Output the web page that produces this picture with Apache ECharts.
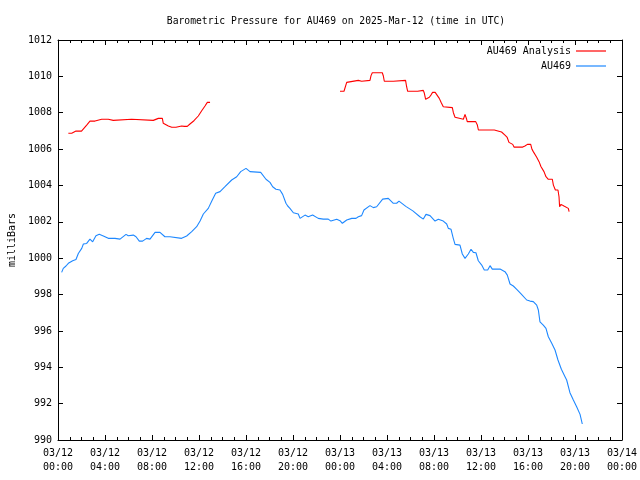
<!DOCTYPE html>
<html>
<head>
<meta charset="utf-8">
<script src="https://cdn.jsdelivr.net/npm/echarts@6/dist/echarts.min.js"></script>
<style>html,body{margin:0;padding:0;background:#fff}#c{width:640px;height:480px}</style>
</head>
<body>
<div id="c"></div>
<script>
// Hours since 2025-03-12 00:00 UTC, pressure in milliBars
const tickLabels = ['03/12\n00:00','03/12\n04:00','03/12\n08:00','03/12\n12:00','03/12\n16:00','03/12\n20:00',
  '03/13\n00:00','03/13\n04:00','03/13\n08:00','03/13\n12:00','03/13\n16:00','03/13\n20:00','03/14\n00:00'];

const analysisPart1 = [
  [0.88,1006.87],[1.17,1006.87],[1.25,1006.92],[1.53,1006.99],[2.00,1006.99],[2.44,1007.32],[2.72,1007.54],
  [3.15,1007.54],[3.23,1007.60],[3.72,1007.64],[4.28,1007.64],[4.37,1007.58],[4.70,1007.58],[4.79,1007.64],
  [6.27,1007.64],[6.32,1007.58],[8.11,1007.58],[8.26,1007.64],[8.54,1007.69],[8.88,1007.69],[8.96,1007.42],
  [9.11,1007.36],[9.39,1007.27],[9.68,1007.20],[10.04,1007.20],[10.15,1007.27],[10.52,1007.27],[10.67,1007.32],
  [10.75,1007.25],[10.86,1007.14],[11.00,1007.25],[11.23,1007.38],[11.57,1007.56],[11.94,1007.82],
  [12.23,1008.11],[12.51,1008.37],[12.71,1008.57],[12.94,1008.57]
];
const analysisPart2 = [
  [24.00,1009.18],[24.34,1009.18],[24.43,1009.25],[24.57,1009.67],[24.65,1009.78],[25.56,1009.78],[25.65,1009.73],
  [25.84,1009.73],[25.93,1009.78],[26.55,1009.78],[26.64,1010.04],[26.75,1010.20],[27.60,1010.20],[27.69,1010.02],
  [27.77,1009.73],[28.54,1009.73],[28.57,1009.78],[29.58,1009.78],[29.67,1009.43],[29.76,1009.18],[30.61,1009.18],
  [30.70,1009.23],[31.09,1009.23],[31.18,1009.07],[31.29,1008.74],[31.43,1008.79],[31.60,1008.85],[31.74,1008.97],
  [31.88,1009.12],[32.10,1009.12],[32.27,1009.01],[32.45,1008.79],[32.62,1008.55],[32.79,1008.33],[32.88,1008.28],
  [33.56,1008.28],[33.65,1008.00],[33.79,1007.75],[33.87,1007.64],[34.50,1007.64],[34.64,1007.91],[34.78,1007.64],
  [34.83,1007.51],[35.55,1007.51],[35.69,1007.32],[35.78,1007.05],[37.13,1007.05],[37.28,1006.99],[37.75,1006.94],
  [37.89,1006.99],[38.04,1006.77],[38.23,1006.64],[38.38,1006.37],[38.70,1006.26],[38.81,1006.11],[39.55,1006.11],
  [39.74,1006.17],[39.95,1006.26],[40.23,1006.26],[40.34,1005.99],[40.45,1005.86],[40.62,1005.77],[40.74,1005.55],
  [40.94,1005.31],[41.11,1005.03],[41.25,1004.94],[41.36,1004.76],[41.53,1004.48],[41.73,1004.34],[42.07,1004.34],
  [42.16,1004.02],[42.33,1003.75],[42.55,1003.75],[42.64,1003.38],[42.69,1002.83],[42.81,1002.96],[42.95,1002.87],
  [43.06,1002.87],[43.23,1002.78],[43.43,1002.74],[43.50,1002.56]
];
const observed = [
  [0.31,999.22],[0.45,999.44],[0.68,999.57],[0.88,999.72],[1.02,999.62],[1.25,999.86],[1.53,999.93],[1.73,1000.26],
  [2.02,1000.54],[2.16,1000.78],[2.44,1000.81],[2.72,1001.05],[2.95,1000.90],[3.23,1001.23],[3.51,1001.31],
  [3.86,1001.22],[4.28,1001.09],[4.85,1001.09],[4.99,1001.20],[5.28,1001.05],[5.79,1001.31],[5.98,1001.23],
  [6.41,1001.27],[6.64,1001.18],[6.92,1000.94],[7.20,1000.94],[7.54,1001.09],[7.83,1001.05],[8.26,1001.42],
  [8.68,1001.42],[9.10,1001.18],[9.25,1001.09],[9.53,1001.18],[10.52,1001.09],[10.95,1001.22],[11.38,1001.46],
  [11.80,1001.73],[12.09,1002.05],[12.37,1002.43],[12.79,1002.74],[13.13,1003.20],[13.42,1003.57],[13.79,1003.66],
  [14.21,1003.93],[14.78,1004.30],[15.21,1004.48],[15.55,1004.76],[16.00,1004.94],[16.34,1004.76],[17.25,1004.72],
  [17.70,1004.34],[18.04,1004.17],[18.27,1003.93],[18.55,1003.79],[18.89,1003.75],[19.12,1003.51],[19.40,1003.02],
  [19.55,1002.87],[19.74,1002.74],[20.03,1002.50],[20.45,1002.43],[20.60,1002.19],[21.02,1002.37],[21.30,1002.28],
  [21.67,1002.37],[22.15,1002.19],[22.58,1002.15],[23.00,1002.15],[23.23,1002.04],[23.72,1002.14],[24.00,1002.06],
  [24.20,1001.92],[24.57,1002.10],[25.00,1002.19],[25.36,1002.19],[25.56,1002.28],[25.84,1002.34],[26.04,1002.65],
  [26.55,1002.89],[26.84,1002.78],[27.12,1002.83],[27.63,1003.25],[28.11,1003.29],[28.54,1003.02],[28.82,1003.02],
  [29.02,1003.14],[29.60,1002.85],[30.20,1002.60],[30.80,1002.28],[31.09,1002.15],[31.32,1002.41],[31.66,1002.34],
  [32.09,1002.04],[32.37,1002.14],[32.79,1002.04],[33.08,1001.88],[33.22,1001.64],[33.45,1001.59],[33.64,1001.09],
  [33.79,1000.76],[34.21,1000.72],[34.41,1000.23],[34.64,999.99],[34.92,1000.23],[35.15,1000.49],[35.35,1000.32],
  [35.57,1000.30],[35.77,999.86],[36.06,999.62],[36.28,999.35],[36.57,999.35],[36.77,999.59],[36.96,999.40],
  [37.62,999.40],[38.04,999.26],[38.24,999.07],[38.47,998.58],[38.75,998.47],[39.04,998.29],[39.37,998.07],
  [39.89,997.70],[40.17,997.64],[40.45,997.61],[40.74,997.42],[40.88,997.15],[41.02,996.50],[41.30,996.32],
  [41.53,996.14],[41.73,995.68],[42.02,995.32],[42.30,994.95],[42.55,994.40],[42.84,993.89],[43.15,993.48],
  [43.29,993.30],[43.43,993.21],[43.57,992.60],[43.86,992.20],[44.14,991.83],[44.43,991.41],[44.62,990.88]
];

const FONT = 'DejaVu Sans Mono';
const chart = echarts.init(document.getElementById('c'), null, {renderer: 'canvas'});
const xCommon = {
  type: 'value', min: 0, max: 48, interval: 4,
  splitLine: {show: false},
  axisLine: {show: true, onZero: false, lineStyle: {color: '#000', width: 1}},
  axisTick: {show: true, inside: true, length: 5, lineStyle: {color: '#000'}},
  minorTick: {show: true, splitNumber: 4, length: 3, lineStyle: {color: '#000'}}
};
const yCommon = {
  type: 'value', min: 990, max: 1012, interval: 2,
  splitLine: {show: false},
  axisLine: {show: true, onZero: false, lineStyle: {color: '#000', width: 1}},
  axisTick: {show: true, inside: true, length: 5, lineStyle: {color: '#000'}}
};
chart.setOption({
  animation: false,
  backgroundColor: '#fff',
  title: {
    text: 'Barometric Pressure for AU469 on 2025-Mar-12 (time in UTC)',
    left: 331, top: 11, textAlign: 'center',
    textStyle: {fontFamily: FONT, fontSize: 9.7, fontWeight: 'normal', color: '#000'}
  },
  legend: {
    orient: 'vertical', right: 29, top: 40, align: 'right',
    icon: 'rect', itemWidth: 30, itemHeight: 1.2, itemGap: 3,
    textStyle: {fontFamily: FONT, fontSize: 10, color: '#000', lineHeight: 12},
    data: ['AU469 Analysis', 'AU469']
  },
  grid: {left: 58, right: 18, top: 40, bottom: 40, containLabel: false, outerBoundsMode: 'none'},
  xAxis: [
    Object.assign({}, xCommon, {
      position: 'bottom',
      axisLabel: {
        fontFamily: FONT, fontSize: 10, color: '#000', margin: 6, lineHeight: 14,
        formatter: v => tickLabels[Math.round(v / 4)]
      }
    }),
    Object.assign({}, xCommon, {position: 'top', axisLabel: {show: false}})
  ],
  yAxis: [
    Object.assign({}, yCommon, {
      position: 'left',
      name: 'milliBars', nameLocation: 'middle', nameGap: 41, nameRotate: 90,
      nameTextStyle: {fontFamily: FONT, fontSize: 10, color: '#000'},
      axisLabel: {fontFamily: FONT, fontSize: 10, color: '#000', margin: 6, formatter: v => String(v)}
    }),
    Object.assign({}, yCommon, {position: 'right', axisLabel: {show: false}})
  ],
  series: [
    {
      name: 'AU469 Analysis', type: 'line', xAxisIndex: 0, yAxisIndex: 0,
      symbol: 'none', connectNulls: false,
      lineStyle: {color: '#ff0000', width: 1.1}, itemStyle: {color: '#ff0000'},
      data: analysisPart1.concat([[18, null]], analysisPart2)
    },
    {
      name: 'AU469', type: 'line', xAxisIndex: 0, yAxisIndex: 0,
      symbol: 'none',
      lineStyle: {color: '#1e88ff', width: 1.1}, itemStyle: {color: '#1e88ff'},
      data: observed
    }
  ]
});
</script>
</body>
</html>
